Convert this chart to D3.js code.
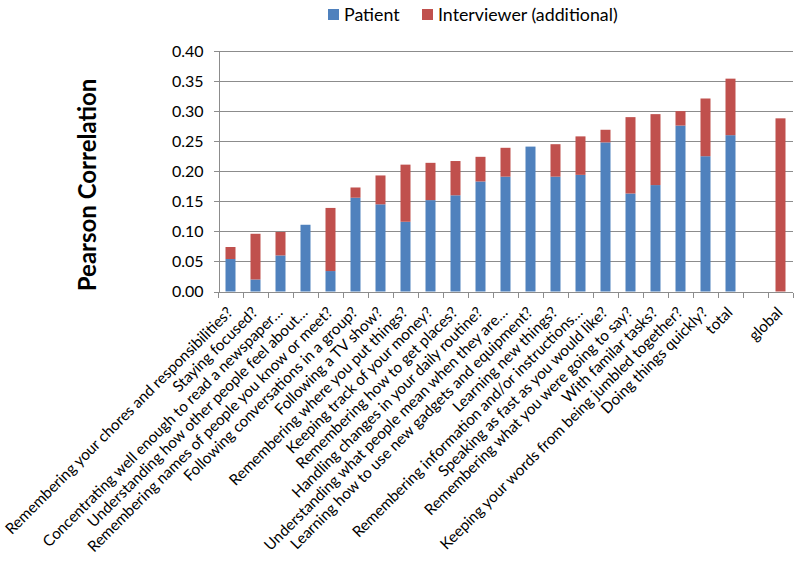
<!DOCTYPE html>
<html lang="en">
<head>
  <meta charset="UTF-8">
  <title>Pearson Correlation by question</title>
  <script src="https://d3js.org/d3.v7.min.js"></script>
  <style>
    body { margin: 0; background: #fff; font-family: Lato, "Open Sans", sans-serif; }
    .grid line { stroke: #8c8c8c; stroke-width: 1px; shape-rendering: crispEdges; }
    .axis path, .axis line { stroke: #8c8c8c; shape-rendering: crispEdges; }
  </style>
</head>
<body>
  <svg id="viz" width="800" height="564"></svg>

  <script>
    const categories = [
      "Remembering your chores and responsibilities?",
      "Staying focused?",
      "Concentrating well enough to read a newspaper\u2026",
      "Understanding how other people feel about\u2026",
      "Remembering names of people you know or meet?",
      "Following conversations in a group?",
      "Following a TV show?",
      "Remembering where you put things?",
      "Keeping track of your money?",
      "Remembering how to get places?",
      "Handling changes in your daily routine?",
      "Understanding what people mean when they are\u2026",
      "Learning how to use new gadgets and equipment?",
      "Learning new things?",
      "Remembering information and/or instructions\u2026",
      "Speaking as fast as you would like?",
      "Remembering what you were going to say?",
      "With familar tasks?",
      "Keeping your words from being jumbled together?",
      "Doing things quickly?",
      "total",
      " ",
      "global"
    ];
    // patient correlation
    const patient = [0.054, 0.020, 0.060, 0.111, 0.034, 0.156, 0.145, 0.116, 0.152, 0.160,
                     0.183, 0.191, 0.241, 0.191, 0.194, 0.248, 0.163, 0.177, 0.276, 0.225,
                     0.260, 0, 0];
    // additional correlation from interviewer (stacked on top)
    const interviewer = [0.020, 0.076, 0.039, 0.000, 0.105, 0.017, 0.048, 0.095, 0.062, 0.057,
                         0.041, 0.048, 0.000, 0.054, 0.064, 0.021, 0.127, 0.118, 0.024, 0.096,
                         0.094, 0, 0.288];
    const yTicks = [0, 0.05, 0.10, 0.15, 0.20, 0.25, 0.30, 0.35, 0.40];
    const seriesNames = ["Patient", "Interviewer (additional)"];
    const colors = ["#4f81bd", "#c0504d"];

    const svg = d3.select("#viz");
    const margin = { left: 218, right: 8, top: 51, bottom: 272 };
    const plotH = 564 - margin.top - margin.bottom;

    const x = d3.scaleBand().domain(categories).range([margin.left, margin.left + 575]);
    const y = d3.scaleLinear().domain([0, 0.4]).range([margin.top + plotH - 0.5, margin.top]);

    // gridlines
    svg.append("g").attr("class", "grid")
      .selectAll("line").data(yTicks.slice(1)).join("line")
      .attr("x1", margin.left).attr("x2", x.range()[1])
      .attr("y1", d => Math.round(y(d)) + 0.5).attr("y2", d => Math.round(y(d)) + 0.5);

    // stacked bars
    const rows = categories.map((c, i) => ({ cat: c, Patient: patient[i], "Interviewer (additional)": interviewer[i] }));
    const stack = d3.stack().keys(seriesNames)(rows);
    const barW = x.bandwidth() * 0.4;

    svg.append("g").selectAll("g").data(stack).join("g")
      .attr("fill", (d, i) => colors[i])
      .selectAll("rect").data(d => d).join("rect")
      .attr("x", d => x(d.data.cat) + (x.bandwidth() - barW) / 2)
      .attr("width", barW)
      .attr("y", d => y(d[1]))
      .attr("height", d => Math.max(0, y(d[0]) - y(d[1])));

    // y axis
    const yAxis = svg.append("g").attr("class", "axis")
      .attr("transform", `translate(${margin.left + 0.5},0)`)
      .call(d3.axisLeft(y).tickValues(yTicks).tickFormat(d3.format(".2f")).tickSize(5).tickPadding(10));
    yAxis.selectAll("text").attr("font-size", 16).attr("font-family", "Lato, sans-serif").attr("fill", "#000");

    // x axis: ticks between categories
    const xBase = Math.round(y(0)) + 0.5;
    const xAxis = svg.append("g").attr("class", "axis");
    xAxis.append("line").attr("x1", margin.left).attr("x2", x.range()[1]).attr("y1", xBase).attr("y2", xBase);
    xAxis.selectAll(".tick").data(categories.concat(["end"])).join("line")
      .attr("x1", (d, i) => Math.round(margin.left + i * x.step()) + 0.5)
      .attr("x2", (d, i) => Math.round(margin.left + i * x.step()) + 0.5)
      .attr("y1", xBase).attr("y2", xBase + 5);

    xAxis.selectAll("text").data(categories).join("text")
      .attr("transform", d => `translate(${x(d) + x.bandwidth() / 2 + 3},${xBase + 21}) rotate(-45)`)
      .attr("text-anchor", "end")
      .attr("font-size", 15.3)
      .attr("fill", "#000")
      .text(d => d);

    // y title
    svg.append("text")
      .attr("transform", `translate(96,185) rotate(-90)`)
      .attr("text-anchor", "middle")
      .attr("font-size", 24)
      .attr("font-weight", "bold")
      .text("Pearson Correlation");

    // legend
    const legend = svg.append("g");
    const legendX = [328, 422];
    seriesNames.forEach((s, i) => {
      legend.append("rect").attr("x", legendX[i]).attr("y", 9).attr("width", 11).attr("height", 11).attr("fill", colors[i]);
      legend.append("text").attr("x", legendX[i] + 16).attr("y", 21).attr("font-size", 17.8).text(s);
    });
  </script>
</body>
</html>
